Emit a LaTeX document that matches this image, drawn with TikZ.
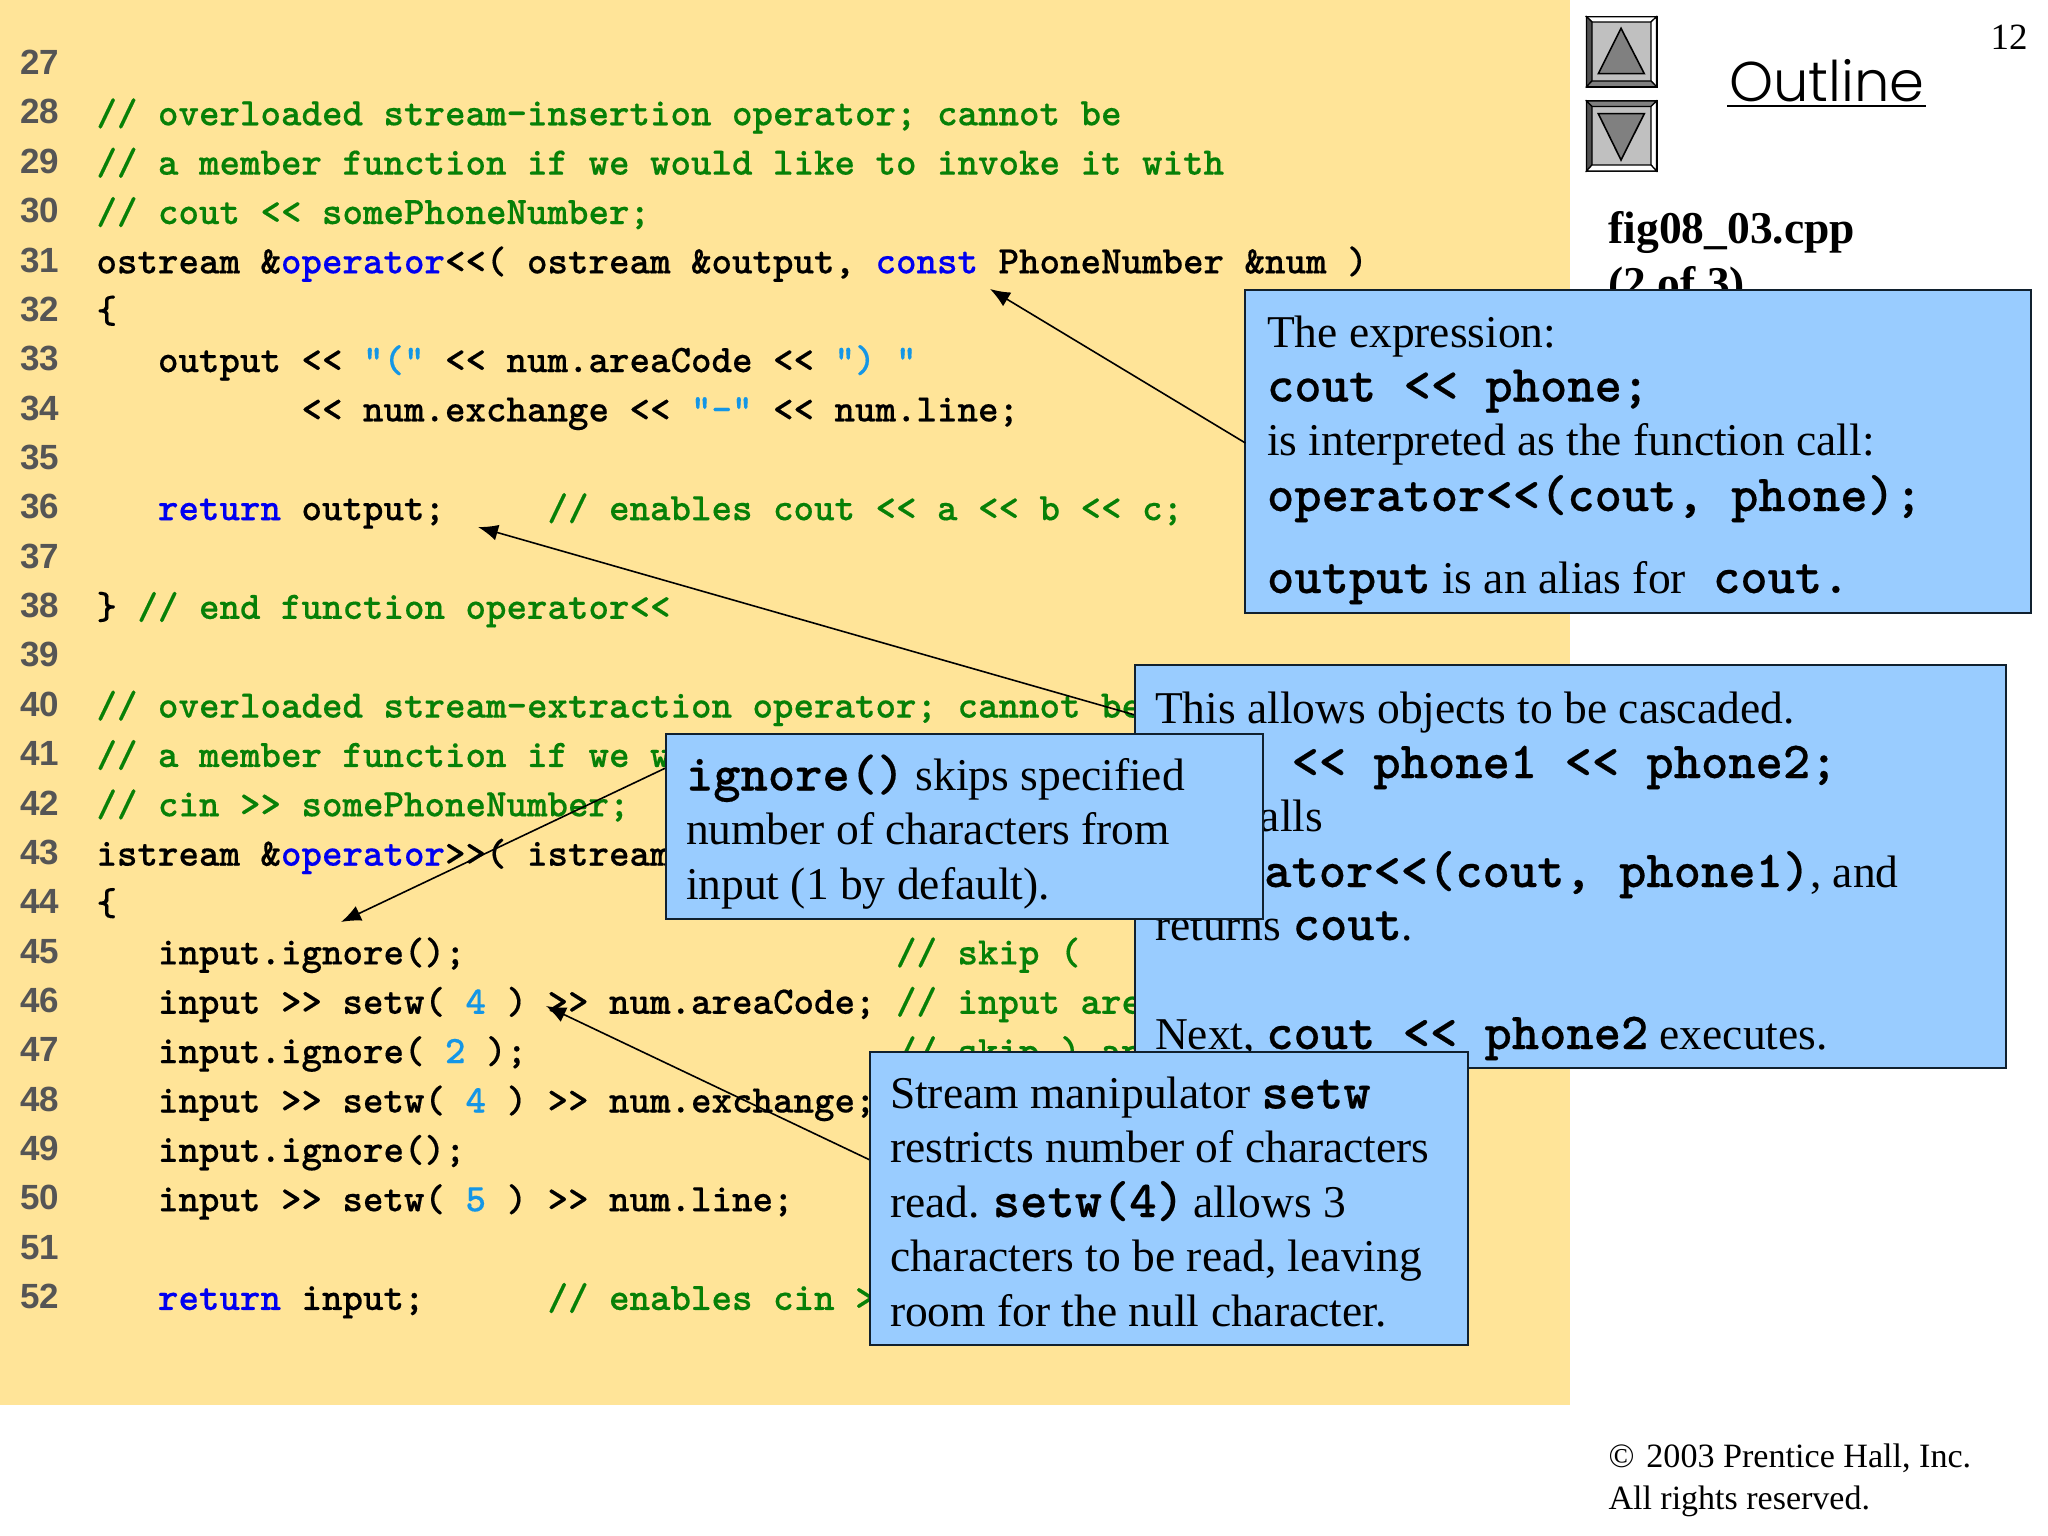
\documentclass[tikz,border=0pt]{standalone}
\usepackage{fontspec}
\setmainfont{Liberation Serif}
\newfontfamily\numfont{Liberation Sans}
\newfontfamily\outfont{Poppins Light}
\newfontfamily\codefont{Latin Modern Mono Light}[BoldFont={Latin Modern Mono Light/B},BoldFeatures={FakeBold=0.35}]
\usetikzlibrary{arrows.meta}
\definecolor{slidebg}{HTML}{FFE498}
\definecolor{callfill}{HTML}{99CCFF}
\definecolor{callline}{HTML}{10202E}
\definecolor{cmt}{HTML}{078007}
\definecolor{kwd}{HTML}{0000F0}
\definecolor{lit}{HTML}{1496E6}
\definecolor{numgray}{HTML}{555555}
\definecolor{btn}{HTML}{C0C0C0}
\definecolor{tri}{HTML}{808080}
\definecolor{bevdark}{HTML}{505050}
\definecolor{bevmid}{HTML}{808080}
\newcommand\Cmt[1]{\textcolor{cmt}{#1}}
\newcommand\Kw[1]{\textcolor{kwd}{#1}}
\newcommand\Lit[1]{\textcolor{lit}{#1}}
\newcommand\mon[1]{{\codefont\bfseries\fontsize{52}{58}\selectfont #1}}
\newcommand\codeline[2]{\node[codetxt] (c#1) at (96.5,{125.3+(#1-28)*49.36}) {#2};}
\tikzset{
  x=1pt,y=-1pt,
  every node/.style={inner sep=0pt,outer sep=0pt},
  codetxt/.style={anchor=base west,font={\codefont\bfseries\fontsize{39.05}{44}\selectfont},text=black},
  numtxt/.style={anchor=base east,font={\numfont\bfseries\fontsize{35}{40}\selectfont},text=numgray},
  calltxt/.style={anchor=base west,font={\fontsize{45.5}{52}\selectfont},text=black},
  callout/.style={anchor=north west,draw=callline,line width=2pt,fill=callfill},
  lead/.style={draw=black,line width=1.6pt,-{Latex[length=20pt,width=16pt]}},
  sidetxt/.style={anchor=base west,text=black},
  navbtn/.style={anchor=north west,draw=black,line width=2pt,fill=btn,minimum width=70pt,minimum height=70pt},
  navtri/.style={draw=black,line width=1.6pt,fill=tri},
  bevedge/.style={draw=black,line width=1.2pt},
}
\begin{document}
\begin{tikzpicture}
\useasboundingbox (0,0) rectangle (2048,1536);
\fill[white] (0,0) rectangle (2048,1536);
\fill[slidebg] (0,0) rectangle (1570,1405);
% line numbers
\foreach \n in {27,...,52} \node[numtxt] (n\n) at (59,{124+(\n-28)*49.36}) {\n};
% code
\codeline{28}{\Cmt{// overloaded stream-insertion operator; cannot be}}
\codeline{29}{\Cmt{// a member function if we would like to invoke it with}}
\codeline{30}{\Cmt{// cout << somePhoneNumber;}}
\codeline{31}{ostream \&\Kw{operator}<<( ostream \&output, \Kw{const} PhoneNumber \&num )}
\codeline{32}{\{}
\codeline{33}{~~~output << \Lit{"("} << num.areaCode << \Lit{") "}}
\codeline{34}{~~~~~~~~~~<< num.exchange << \Lit{"-"} << num.line;}
\codeline{36}{~~~\Kw{return} output;~~~~~\Cmt{// enables cout << a << b << c;}}
\codeline{38}{\} \Cmt{// end function operator<<}}
\codeline{40}{\Cmt{// overloaded stream-extraction operator; cannot be}}
\codeline{41}{\Cmt{// a member function if we w}}
\codeline{42}{\Cmt{// cin >> somePhoneNumber;}}
\codeline{43}{istream \&\Kw{operator}>>( istream}
\codeline{44}{\{}
\codeline{45}{~~~input.ignore();~~~~~~~~~~~~~~~~~~~~~\Cmt{// skip (}}
\codeline{46}{~~~input >> setw( \Lit{4} ) >> num.areaCode; \Cmt{// input are}}
\codeline{47}{~~~input.ignore( \Lit{2} );~~~~~~~~~~~~~~~~~~\Cmt{// skip ) an}}
\codeline{48}{~~~input >> setw( \Lit{4} ) >> num.exchange;}
\codeline{49}{~~~input.ignore();}
\codeline{50}{~~~input >> setw( \Lit{5} ) >> num.line;}
\codeline{52}{~~~\Kw{return} input;~~~~~~\Cmt{// enables cin >}}
% sidebar
\node[navbtn] (btnup) at (1586.5,16.7) {};
\filldraw[bevedge,fill=white] (1586.5,16.7) -- (1656.5,16.7) -- (1651,22) -- (1592,22) -- cycle;
\filldraw[bevedge,fill=bevdark] (1586.5,16.7) -- (1592,22) -- (1592,81) -- (1586.5,86.7) -- cycle;
\filldraw[bevedge,fill=white] (1656.5,16.7) -- (1651,22) -- (1651,81) -- (1656.5,86.7) -- cycle;
\filldraw[bevedge,fill=bevmid] (1586.5,86.7) -- (1592,81) -- (1651,81) -- (1656.5,86.7) -- cycle;
\node[navbtn] (btndown) at (1586.5,101) {};
\filldraw[bevedge,fill=bevmid] (1586.5,101) -- (1656.5,101) -- (1651,106.5) -- (1592,106.5) -- cycle;
\filldraw[bevedge,fill=bevdark] (1586.5,101) -- (1592,106.5) -- (1592,165) -- (1586.5,171) -- cycle;
\filldraw[bevedge,fill=white] (1656.5,101) -- (1651,106.5) -- (1651,165) -- (1656.5,171) -- cycle;
\filldraw[bevedge,fill=white] (1586.5,171) -- (1592,165) -- (1651,165) -- (1656.5,171) -- cycle;
\draw[navtri] (1621,28.3) -- (1644.3,73.7) -- (1598.3,73.7) -- cycle;
\draw[navtri] (1621,160) -- (1644.3,113.7) -- (1598.3,113.7) -- cycle;
\node[sidetxt,font={\outfont\fontsize{56}{60}\selectfont}] (outl) at (1729,102) {Outline};
\draw[black,line width=2.6pt] (1727,106) -- (1926,106);
\node[sidetxt,font={\fontsize{37}{40}\selectfont}] (pg) at (1990.5,50) {12};
\node[sidetxt,font={\bfseries\fontsize{45.5}{52}\selectfont}] (fig) at (1608.5,243) {fig08\_03.cpp};
\node[sidetxt,font={\bfseries\fontsize{45.5}{52}\selectfont}] (figb) at (1608.5,298) {(2 of 3)};
\node[sidetxt,font={\fontsize{34.1}{40}\selectfont}] (cr1) at (1608.5,1467.5) {©\hspace{3.5pt} 2003 Prentice Hall, Inc.};
\node[sidetxt,font={\fontsize{34}{40}\selectfont}] (cr2) at (1608.5,1509) {All rights reserved.};
% callout boxes and leaders
\node[callout,minimum width=785.6pt,minimum height=322.5pt] (b1) at (1245.4,290) {};
\coordinate (a1s) at (1245.4,443);
\coordinate (a1e) at (990,289);
\draw[lead] (a1s) -- (a1e);
\node[calltxt] (b1a) at (1267,347) {The expression:};
\node[calltxt] (b1b) at (1267,401.5) {\mon{cout << phone;}};
\node[calltxt] (b1c) at (1267,455.5) {is interpreted as the function call:};
\node[calltxt] (b1d) at (1267,511) {\mon{operator<<(cout, phone);}};
\node[calltxt] (b1e) at (1267,593) {\mon{output} is an alias for\hspace{27pt}\mon{cout.}};
\coordinate (a2s) at (1135,715);
\coordinate (a2e) at (478,527);
\draw[lead] (a2s) -- (a2e);
\node[callout,minimum width=870.5pt,minimum height=403pt] (b2) at (1135,665) {};
\node[calltxt] (b2a) at (1155,723) {This allows objects to be cascaded.};
\node[calltxt] (b2b) at (1155,778) {\mon{cout << phone1 << phone2;}};
\node[calltxt] (b2c) at (1155,831) {first calls};
\node[calltxt] (b2d) at (1155,887) {\mon{operator<<(cout, phone1)}, and};
\node[calltxt] (b2e) at (1155,940) {returns \mon{cout}.};
\node[calltxt] (b2f) at (1155,1049) {Next, \mon{cout << phone2} executes.};
\coordinate (a3s) at (665.6,768);
\coordinate (a3e) at (341,922);
\draw[lead] (a3s) -- (a3e);
\node[callout,minimum width=597.4pt,minimum height=185.4pt] (b3) at (665.6,733.6) {};
\node[calltxt] (b3a) at (686,790.5) {\mon{ignore()} skips specified};
\node[calltxt] (b3b) at (686,844.5) {number of characters from};
\node[calltxt] (b3c) at (686,899.5) {input (1 by default).};
\coordinate (a4s) at (870,1160);
\coordinate (a4e) at (546,1006);
\draw[lead] (a4s) -- (a4e);
\node[callout,minimum width=598pt,minimum height=293pt] (b4) at (870,1052) {};
\node[calltxt] (b4a) at (890,1108.5) {Stream manipulator \mon{setw}};
\node[calltxt] (b4b) at (890,1162.5) {restricts number of characters};
\node[calltxt] (b4c) at (890,1217) {read.\hspace{-2pt} \mon{setw(4)}\hspace{-2pt} allows 3};
\node[calltxt] (b4d) at (890,1271.5) {characters to be read, leaving};
\node[calltxt] (b4e) at (890,1326) {room for the null character.};
\end{tikzpicture}
\end{document}
